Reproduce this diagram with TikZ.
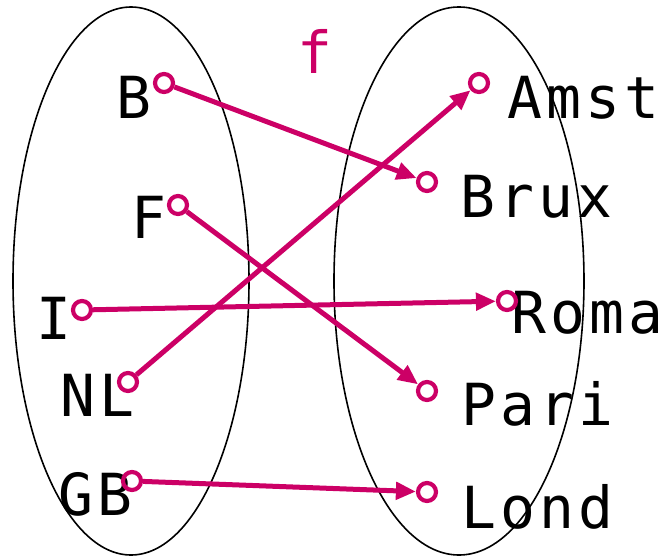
\documentclass[tikz,border=0pt]{standalone}
\usepackage{fontspec}
\setmainfont{DejaVu Sans Mono}[LetterSpace=7]
\usetikzlibrary{arrows.meta}
\definecolor{fcol}{RGB}{204,0,102}
\begin{document}
\begin{tikzpicture}[x=1pt,y=-1pt,
  dot/.style={circle,draw=fcol,line width=4.2pt,minimum size=18pt,inner sep=0pt},
  lab/.style={anchor=base west,inner sep=0pt,font=\fontsize{58}{58}\selectfont},
  map/.style={draw=fcol,line width=5pt,-{Triangle[length=20pt,width=17pt]}},
  set/.style={draw=black,line width=1.6pt}]
\useasboundingbox (0,0) rectangle (662,557);
\draw[set] (131,281) ellipse [x radius=118, y radius=274];
\draw[set] (459,281) ellipse [x radius=125, y radius=274];
\node[lab,text=fcol] (f) at (297,73) {f};
% domain
\node[lab] (lB) at (116,118) {B};
\node[lab] (lF) at (131,238) {F};
\node[lab] (lI) at (36,339) {I};
\node[lab] (lNL) at (60,416) {NL};
\node[lab] (lGB) at (58,515) {GB};
% codomain
\node[lab] (lA) at (507,118) {Amst};
\node[lab] (lBr) at (460,217) {Brux};
\node[lab] (lR) at (511,333) {Roma};
\node[lab] (lP) at (461,425) {Pari};
\node[lab] (lL) at (461,528) {Lond};
% dots
\node[dot] (dB) at (164,83) {};
\node[dot] (dF) at (178,205) {};
\node[dot] (dI) at (82,310) {};
\node[dot] (dNL) at (128,382) {};
\node[dot] (dGB) at (132,481) {};
\node[dot] (dA) at (479,83) {};
\node[dot] (dBr) at (427,182) {};
\node[dot] (dR) at (507,301) {};
\node[dot] (dP) at (427,391) {};
\node[dot] (dL) at (427,492) {};
% maps
\draw[map] (dB) -- (dBr);
\draw[map] (dF) -- (dP);
\draw[map] (dI) -- (dR);
\draw[map] (dNL) -- (dA);
\draw[map] (dGB) -- (dL);
\end{tikzpicture}
\end{document}
